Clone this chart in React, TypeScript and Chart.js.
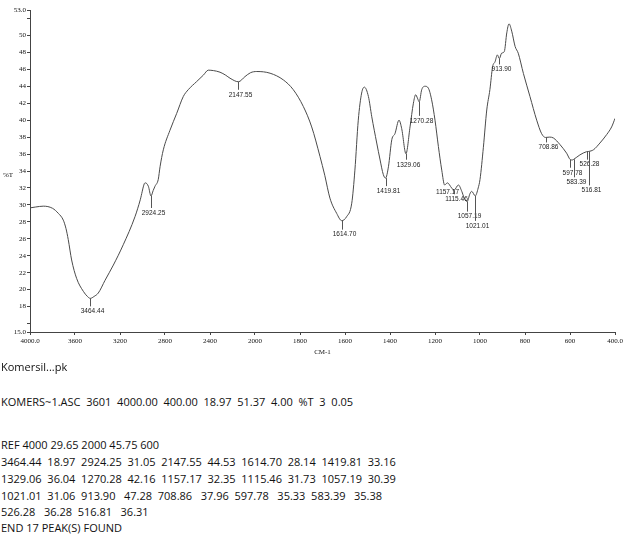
import React, { useEffect, useRef } from "react";
import { Chart, registerables } from "chart.js";
Chart.register(...registerables);

// ---- spectrum data (wavenumber cm-1, %T) ----
const wavenumbers = [
  4000, 3950, 3882, 3800, 3748, 3704, 3680, 3660, 3630, 3585, 3526, 3490, 3464.44, 3430, 3393, 3333, 3259, 3171,
  3067, 3020, 2984, 2975, 2948, 2924.25, 2905, 2889, 2860, 2844, 2815, 2756, 2696, 2637, 2593, 2519, 2460, 2415,
  2370, 2311, 2260, 2222, 2147.55, 2089, 2040, 1992, 1933, 1874, 1830, 1785, 1748, 1711, 1690, 1667, 1637, 1614.7,
  1593, 1570, 1556, 1541, 1526, 1514, 1496, 1481, 1459, 1444, 1430, 1419.81, 1407, 1392, 1378, 1360, 1348, 1329.06,
  1311, 1296, 1286, 1278, 1270.28, 1259, 1244, 1230, 1215, 1200, 1185, 1170, 1157.17, 1145, 1126, 1115.46, 1096,
  1081, 1070, 1057.19, 1045, 1037, 1021.01, 1008, 1000, 985, 970, 956, 944, 933, 923, 913.9, 904, 892, 881, 871, 859,
  844, 830, 807, 778, 748, 726, 708.86, 690, 674, 644, 615, 597.78, 590, 583.39, 556, 526.28, 516.81, 496, 467, 437,
  415, 400,
];
const transmittance = [
  29.65, 29.75, 29.85, 29.6, 29.0, 28.2, 27.2, 25.9, 23.5, 21.3, 19.8, 19.2, 18.97, 19.2, 19.6, 21.1, 22.9, 25.3,
  28.6, 30.6, 32.5, 32.6, 32.2, 31.05, 31.7, 32.2, 33.0, 34.5, 36.5, 38.8, 40.8, 42.8, 43.6, 44.55, 45.3, 45.9,
  45.85, 45.66, 45.3, 44.95, 44.53, 45.14, 45.6, 45.74, 45.54, 44.75, 43.6, 41.6, 39.2, 35.7, 33.5, 30.8, 29.0, 28.14,
  28.6, 30.2, 34.1, 40.0, 43.2, 43.9, 42.8, 40.4, 37.3, 35.3, 33.6, 33.16, 34.5, 37.7, 38.4, 40.0, 39.0, 36.04,
  39.2, 42.0, 43.0, 42.6, 42.16, 43.6, 44.0, 43.8, 42.4, 40.0, 36.9, 34.1, 32.35, 32.6, 32.0, 31.73, 32.35,
  31.6, 30.8, 30.39, 31.3, 31.6, 31.06, 32.0, 33.0, 36.8, 41.2, 43.6, 46.3, 46.9, 47.7, 47.28, 47.9, 48.1, 50.3, 51.37, 50.5,
  48.7, 47.9, 45.5, 42.8, 40.0, 38.4, 37.96, 38.0, 37.9, 37.1, 36.1, 35.33, 35.3, 35.38, 35.9, 36.28, 36.31, 36.5, 37.3, 38.3,
  39.2, 40.2,
];

// ---- peaks ----
const peakWavenumbers = [
  3464.44, 2924.25, 2147.55, 1614.7, 1419.81, 1329.06, 1270.28, 1157.17, 1115.46, 1057.19, 1021.01, 913.9, 708.86,
  597.78, 583.39, 526.28, 516.81,
];
const peakTransmittance = [
  18.97, 31.05, 44.53, 28.14, 33.16, 36.04, 42.16, 32.35, 31.73, 30.39, 31.06, 47.28, 37.96, 35.33, 35.38, 36.28, 36.31,
];

// ---- ticks ----
const xTickWavenumbers = [4000, 3600, 3200, 2800, 2400, 2000, 1800, 1600, 1400, 1200, 1000, 800, 600, 400];
const yTickValues = [15, 16, 18, 20, 22, 24, 26, 28, 30, 32, 34, 36, 38, 40, 42, 44, 46, 48, 50, 52, 53];
const yTickHidden = [16, 52];

// ---- text block ----
const titleText = "Komersil...pk";
const headerText = "KOMERS~1.ASC  3601  4000.00  400.00  18.97  51.37  4.00  %T  3  0.05";
const refText = "REF 4000 29.65 2000 45.75 600";
const endText = "END 17 PEAK(S) FOUND";

// layout of the peak annotations (vertical drop of each marker, px)
const peakLabelDrop = [6, 10, 6, 7, 6, 4, 12, 0, 2, 8, 23, 4, 3, 6, 16, 6, 32];

// scale break at 2000 cm-1 (above it, half the density)
const toAxis = (w: number) => (w > 2000 ? 2000 + (w - 2000) / 2 : w);
const fromAxis = (t: number) => (t > 2000 ? 2000 + (t - 2000) * 2 : t);

const peakLines: string[] = (() => {
  const pairs = peakWavenumbers.map(
    (w, i) => w.toFixed(2).padEnd(7, " ") + "  " + peakTransmittance[i].toFixed(2)
  );
  const lines: string[] = [];
  for (let i = 0; i < pairs.length; i += 5) lines.push(pairs.slice(i, i + 5).join("  "));
  return lines;
})();

const annotations = {
  id: "ftirAnnotations",
  afterDatasetsDraw(chart: any) {
    const { ctx, scales, chartArea } = chart;
    const xs = scales.x;
    const ys = scales.y;
    ctx.save();
    ctx.strokeStyle = "#555";
    ctx.lineWidth = 1;
    ctx.fillStyle = "#222";
    ctx.font = "6.5px 'Liberation Sans', Arial, sans-serif";
    ctx.textAlign = "center";
    ctx.textBaseline = "middle";
    peakWavenumbers.forEach((w, i) => {
      const x = Math.round(xs.getPixelForValue(toAxis(w))) + 0.5;
      const y = ys.getPixelForValue(peakTransmittance[i]);
      const d = peakLabelDrop[i];
      if (d > 0) {
        ctx.beginPath();
        ctx.moveTo(x, y);
        ctx.lineTo(x, y + d + 2);
        ctx.stroke();
      }
      ctx.fillText(w.toFixed(2), x + 2, y + d + 7);
    });
    ctx.fillStyle = "#111";
    ctx.font = "7px 'Liberation Serif', 'Times New Roman', serif";
    ctx.textAlign = "left";
    ctx.fillText("%T", 3, (chartArea.top + chartArea.bottom) / 2 + 4);
    ctx.textAlign = "center";
    ctx.fillText("CM-1", (chartArea.left + chartArea.right) / 2, chartArea.bottom + 20);
    ctx.restore();
  },
};

export default function App() {
  const canvasRef = useRef<HTMLCanvasElement | null>(null);

  useEffect(() => {
    if (!canvasRef.current) return;
    const points = wavenumbers.map((w, i) => ({ x: toAxis(w), y: transmittance[i] }));
    const tickFont = { family: "'Liberation Serif', 'Times New Roman', serif", size: 7 };
    const chart = new Chart(canvasRef.current, {
      type: "scatter",
      data: {
        datasets: [
          {
            data: points,
            showLine: true,
            borderColor: "#4a4a4a",
            borderWidth: 1,
            pointRadius: 0,
            cubicInterpolationMode: "monotone",
            fill: false,
          },
        ],
      },
      options: {
        animation: false,
        responsive: false,
        maintainAspectRatio: false,
        layout: { padding: { left: 0, top: 10, right: 12, bottom: 0 } },
        plugins: { legend: { display: false }, tooltip: { enabled: false }, title: { display: false } },
        scales: {
          x: {
            type: "linear",
            reverse: true,
            min: toAxis(400),
            max: toAxis(4000),
            afterBuildTicks: (s: any) => {
              s.ticks = xTickWavenumbers.map((w) => ({ value: toAxis(w) }));
            },
            afterFit: (s: any) => {
              s.height = 30;
            },
            ticks: {
              autoSkip: false,
              maxRotation: 0,
              padding: 2,
              color: "#111",
              font: tickFont,
              callback: (v: any) => {
                const w = Math.round(fromAxis(Number(v)));
                if (w === 4000) return "4000.0";
                if (w === 400) return "400.0";
                return String(w);
              },
            },
            grid: { drawOnChartArea: false, drawTicks: true, tickLength: 3, color: "#444" },
            border: { display: true, color: "#444", width: 1 },
          },
          y: {
            type: "linear",
            min: 15,
            max: 53,
            afterBuildTicks: (s: any) => {
              s.ticks = yTickValues.map((v) => ({ value: v }));
            },
            afterFit: (s: any) => {
              s.width = 30;
            },
            ticks: {
              autoSkip: false,
              padding: 1,
              color: "#111",
              font: tickFont,
              callback: (v: any) => {
                const n = Number(v);
                if (yTickHidden.includes(n)) return "";
                if (n === 15 || n === 53) return n.toFixed(1);
                return String(n);
              },
            },
            grid: { drawOnChartArea: false, drawTicks: true, tickLength: 3, color: "#444" },
            border: { display: true, color: "#444", width: 1 },
          },
        },
      },
      plugins: [annotations],
    } as any);
    return () => chart.destroy();
  }, []);

  const textFont = "'Open Sans', 'Noto Sans', sans-serif";
  const lineStyle = (center: number): React.CSSProperties => ({
    position: "absolute",
    left: 1,
    top: center - 8,
    height: 16,
    lineHeight: "16px",
    whiteSpace: "pre",
    fontFamily: textFont,
    fontSize: 11,
    color: "#111",
  });
  const peakCenters = [462, 479, 496, 512];

  return (
    <div style={{ position: "absolute", left: 0, top: 0, width: 627, height: 536, background: "#fff" }}>
      <canvas ref={canvasRef} width={627} height={362} style={{ display: "block", position: "absolute", left: 0, top: 0 }} />
      <div style={lineStyle(367)}>{titleText}</div>
      <div style={lineStyle(402)}>{headerText}</div>
      <div style={lineStyle(445)}>{refText}</div>
      {peakLines.map((l, i) => (
        <div key={i} style={lineStyle(peakCenters[i])}>
          {l}
        </div>
      ))}
      <div style={lineStyle(528)}>{endText}</div>
    </div>
  );
}
